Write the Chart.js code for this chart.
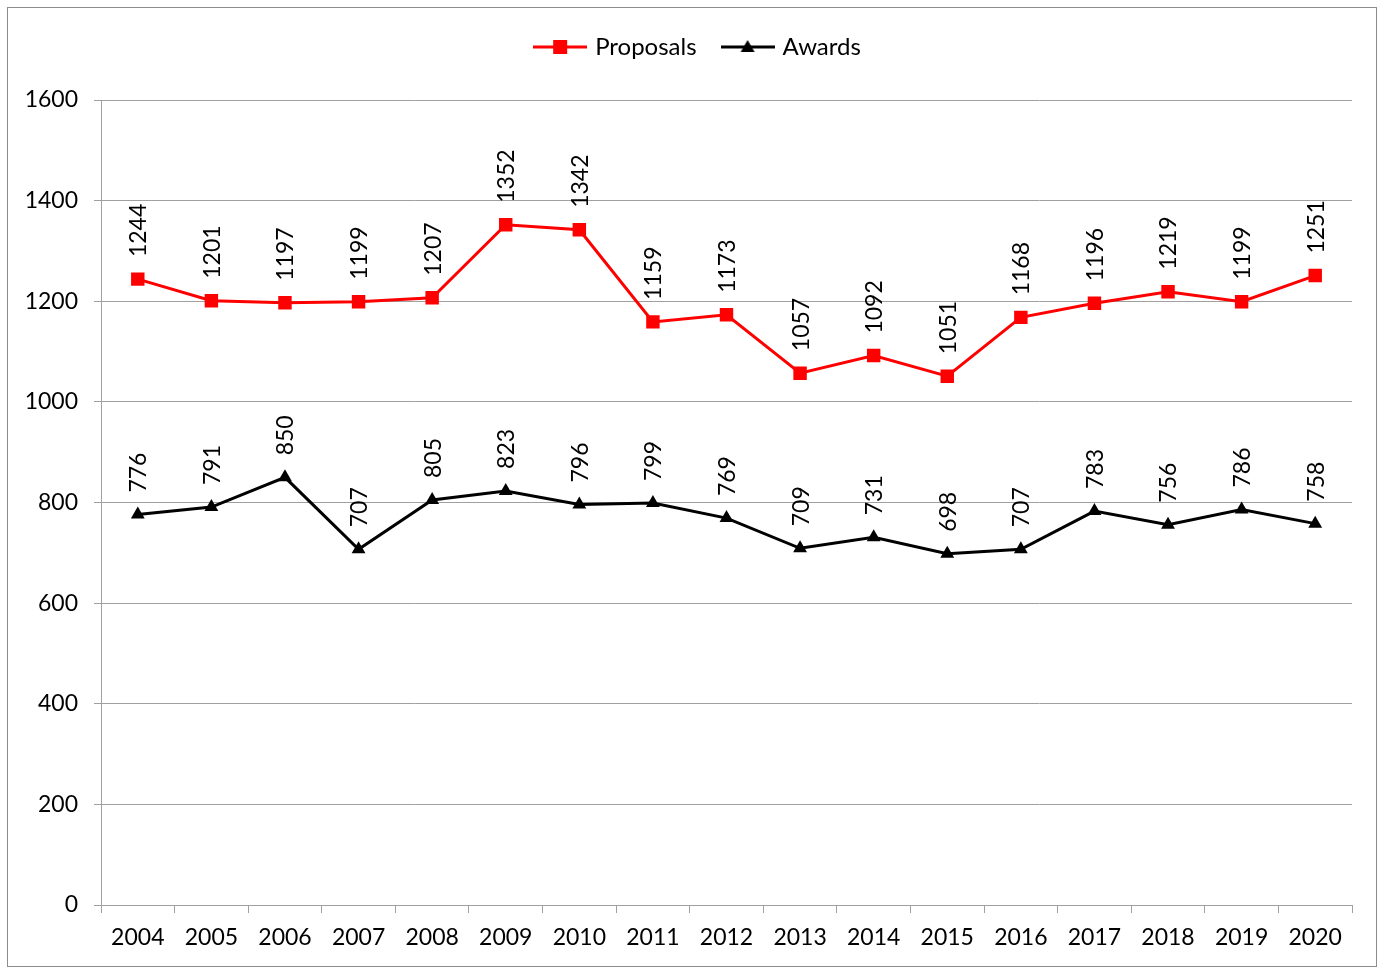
<!DOCTYPE html>
<html>
<head>
<meta charset="utf-8">
<script src="https://cdn.jsdelivr.net/npm/chart.js@4"></script>
<style>
    html, body { margin: 0; padding: 0; background: #fff; }
    #wrap { position: relative; width: 1385px; height: 971px; }
    #frame { position: absolute; left: 7px; top: 7px; width: 1370px; height: 960px; border: 1px solid #8c8c8c; box-sizing: border-box; }
    canvas { position: absolute; left: 0; top: 0; }
</style>
</head>
<body>
<div id="wrap">
    <div id="frame"></div>
    <canvas id="myChart" width="1385" height="971"></canvas>
</div>
<script>
// data
const years = ['2004', '2005', '2006', '2007', '2008', '2009', '2010', '2011', '2012', '2013', '2014', '2015', '2016', '2017', '2018', '2019', '2020']
const proposals = [1244, 1201, 1197, 1199, 1207, 1352, 1342, 1159, 1173, 1057, 1092, 1051, 1168, 1196, 1219, 1199, 1251]
const awards = [776, 791, 850, 707, 805, 823, 796, 799, 769, 709, 731, 698, 707, 783, 756, 786, 758]

const FONT = 'Lato'
const GRID = '#a0a0a0'

Chart.defaults.font.family = FONT
Chart.defaults.color = '#000'

// legend icon: line with marker in the middle
function legendIcon(color, shape) {
    const c = document.createElement('canvas')
    c.width = 54
    c.height = 20
    const g = c.getContext('2d')
    g.strokeStyle = color
    g.lineWidth = 3
    g.beginPath()
    g.moveTo(0, 10)
    g.lineTo(54, 10)
    g.stroke()
    g.fillStyle = color
    if (shape === 'rect') {
        g.fillRect(20, 3, 14, 14)
    } else {
        g.beginPath()
        g.moveTo(27, 3)
        g.lineTo(34, 15)
        g.lineTo(20, 15)
        g.closePath()
        g.fill()
    }
    return c
}

// vertical value labels above each point
const valueLabels = {
    id: 'valueLabels',
    afterDatasetsDraw(chart) {
        const ctx = chart.ctx
        ctx.save()
        ctx.font = '23px ' + FONT
        ctx.fillStyle = '#000'
        ctx.textAlign = 'left'
        ctx.textBaseline = 'middle'
        chart.data.datasets.forEach((ds, i) => {
            chart.getDatasetMeta(i).data.forEach((pt, j) => {
                ctx.save()
                ctx.translate(pt.x + 1, pt.y - 22)
                ctx.rotate(-Math.PI / 2)
                ctx.fillText(String(ds.data[j]), 0, 0)
                ctx.restore()
            })
        })
        ctx.restore()
    }
}

// fix legend box height so the plot area starts at the right place,
// and nudge it right so it sits centred over the whole frame
const legendHeight = {
    id: 'legendHeight',
    afterInit(chart) {
        const lg = chart.legend
        const fit = lg.fit
        lg.fit = function () {
            fit.call(this)
            this.height = 93
        }
    },
    afterLayout(chart) {
        chart.legend.left += 46
    }
}

const ctx = document.getElementById('myChart')
const myChart = new Chart(ctx, {
    type: 'line',
    data: {
        labels: years,
        datasets: [{
            label: 'Proposals',
            data: proposals,
            borderColor: '#ff0000',
            backgroundColor: '#ff0000',
            borderWidth: 3,
            pointStyle: 'rect',
            pointRadius: 9.5,
            pointBorderWidth: 0,
            tension: 0
        }, {
            label: 'Awards',
            data: awards,
            borderColor: '#000000',
            backgroundColor: '#000000',
            borderWidth: 3,
            pointStyle: 'triangle',
            pointRadius: 8,
            pointBorderWidth: 0,
            tension: 0
        }]
    },
    options: {
        responsive: false,
        animation: false,
        layout: {
            padding: { left: 0, right: 33, top: 7, bottom: 0 }
        },
        plugins: {
            tooltip: { enabled: false },
            legend: {
                position: 'top',
                labels: {
                    usePointStyle: true,
                    pointStyleWidth: 46,
                    padding: 28,
                    font: { size: 24 },
                    color: '#000',
                    generateLabels(chart) {
                        return chart.data.datasets.map((ds, i) => ({
                            text: ds.label,
                            pointStyle: legendIcon(ds.borderColor, ds.pointStyle),
                            fillStyle: ds.borderColor,
                            strokeStyle: ds.borderColor,
                            lineWidth: 0,
                            datasetIndex: i,
                            hidden: false
                        }))
                    }
                }
            }
        },
        scales: {
            x: {
                offset: true,
                grid: {
                    offset: true,
                    drawOnChartArea: false,
                    drawTicks: true,
                    tickLength: 8,
                    color: GRID
                },
                border: { display: true, color: GRID, width: 1 },
                ticks: {
                    font: { size: 23 },
                    color: '#000',
                    maxRotation: 0,
                    autoSkip: false,
                    padding: 11
                },
                afterFit(scale) { scale.height = 66 }
            },
            y: {
                min: 0,
                max: 1600,
                ticks: {
                    stepSize: 200,
                    font: { size: 23 },
                    color: '#000',
                    padding: 16,
                    callback: (v) => String(v)
                },
                grid: {
                    color: GRID,
                    tickLength: 7,
                    drawTicks: true
                },
                border: { display: true, color: GRID, width: 1 },
                afterFit(scale) { scale.width = 101 }
            }
        }
    },
    plugins: [valueLabels, legendHeight]
})
</script>
</body>
</html>
